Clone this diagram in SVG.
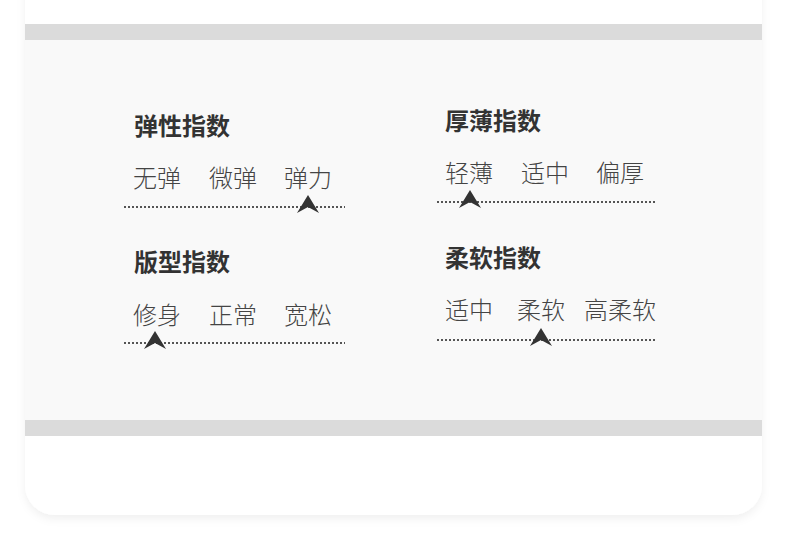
<svg xmlns="http://www.w3.org/2000/svg" width="790" height="558" viewBox="0 0 790 558">
<defs>
<filter id="sh" x="-5%" y="-5%" width="110%" height="115%"><feDropShadow dx="0" dy="4" stdDeviation="4" flood-color="#000" flood-opacity="0.06"/></filter>
<path id="arr" d="M0,0 L11,18 L0,12 L-11,18 Z" fill="#333"/>
</defs>
<style>
.t{font-family:"Noto Sans CJK SC",sans-serif;font-weight:700;font-size:24px;fill:#333}
.o{font-family:"Noto Sans CJK SC",sans-serif;font-weight:300;font-size:24px;fill:#444}
.d{stroke:#555;stroke-width:2;stroke-dasharray:2 2;fill:none}
</style>
<rect width="790" height="558" fill="#fff"/>
<rect x="25" y="-40" width="737" height="555" rx="30" fill="#fff" filter="url(#sh)"/>
<rect x="25" y="24" width="737" height="16" fill="#dbdbdb"/>
<rect x="25" y="40" width="737" height="380" fill="#f9f9f9"/>
<rect x="25" y="420" width="737" height="16" fill="#dbdbdb"/>
<g id="elastic">
<text class="t" x="134" y="135">弹性指数</text>
<text class="o" x="133" y="187">无弹</text><text class="o" x="209" y="187">微弹</text><text class="o" x="284" y="187">弹力</text>
<line class="d" x1="124" y1="207" x2="345" y2="207"/>
<use href="#arr" x="308" y="195"/>
</g>
<g id="thickness">
<text class="t" x="445" y="130">厚薄指数</text>
<text class="o" x="445" y="182">轻薄</text><text class="o" x="521" y="182">适中</text><text class="o" x="596" y="182">偏厚</text>
<line class="d" x1="437" y1="202" x2="657" y2="202"/>
<use href="#arr" x="470" y="190"/>
</g>
<g id="fit">
<text class="t" x="134" y="271">版型指数</text>
<text class="o" x="133" y="324">修身</text><text class="o" x="209" y="324">正常</text><text class="o" x="284" y="324">宽松</text>
<line class="d" x1="124" y1="343" x2="345" y2="343"/>
<use href="#arr" x="155" y="331"/>
</g>
<g id="softness">
<text class="t" x="445" y="267">柔软指数</text>
<text class="o" x="445" y="319">适中</text><text class="o" x="517" y="319">柔软</text><text class="o" x="584" y="319">高柔软</text>
<line class="d" x1="437" y1="340" x2="657" y2="340"/>
<use href="#arr" x="541" y="328"/>
</g>
<g id="connectors"/>
</svg>
